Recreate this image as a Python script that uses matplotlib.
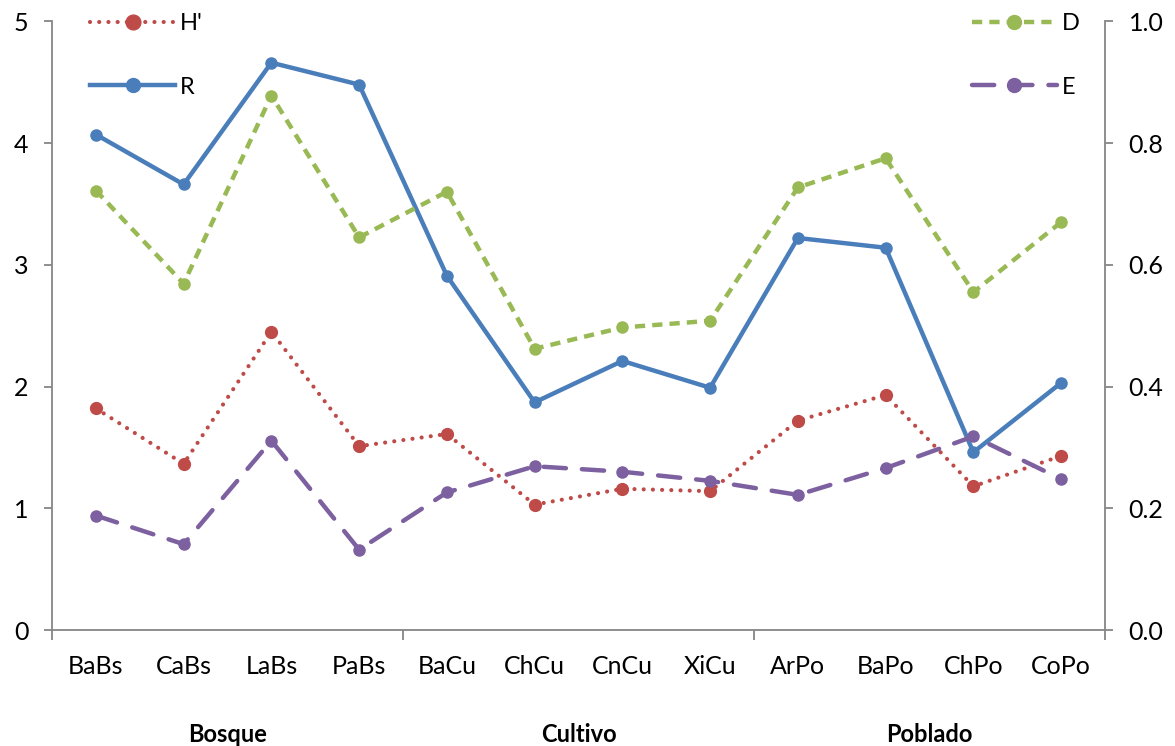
import matplotlib
matplotlib.use("Agg")
import matplotlib.pyplot as plt
import matplotlib.transforms as mtransforms

plt.rcParams['font.family'] = ['Lato', 'DejaVu Sans']

categories = ["BaBs", "CaBs", "LaBs", "PaBs", "BaCu", "ChCu", "CnCu", "XiCu",
              "ArPo", "BaPo", "ChPo", "CoPo"]
groups = ["Bosque", "Cultivo", "Poblado"]

H = [1.82, 1.365, 2.45, 1.51, 1.61, 1.03, 1.16, 1.14, 1.72, 1.93, 1.18, 1.43]
R = [4.07, 3.66, 4.66, 4.48, 2.91, 1.87, 2.21, 1.99, 3.22, 3.14, 1.46, 2.03]
D = [0.722, 0.569, 0.878, 0.645, 0.720, 0.462, 0.497, 0.508, 0.727, 0.775, 0.555, 0.670]
E = [0.188, 0.141, 0.311, 0.132, 0.226, 0.269, 0.260, 0.245, 0.222, 0.266, 0.318, 0.248]

left_ticks = [0, 1, 2, 3, 4, 5]
right_ticks = [0.0, 0.2, 0.4, 0.6, 0.8, 1.0]

c_blue = "#4A7EBB"
c_red = "#BE4B48"
c_green = "#98B954"
c_purple = "#7D60A0"
c_axis = "#868686"

W, Hpx = 1175, 746
fig = plt.figure(figsize=(W / 100, Hpx / 100), dpi=100)
ax = fig.add_axes([52 / W, (746 - 630) / Hpx, (1105 - 52) / W, (630 - 21.3) / Hpx])
ax2 = ax.twinx()

x = list(range(len(categories)))

lh, = ax.plot(x, H, color=c_red, lw=3.0, linestyle=(0, (0.01, 2.2)),
              dash_capstyle='round', marker='o', markersize=8.5, label="H'")
lr, = ax.plot(x, R, color=c_blue, lw=3.2, linestyle='-',
              marker='o', markersize=8, label="R")
ld, = ax2.plot(x, D, color=c_green, lw=3.2, linestyle=(0, (2.3, 1.6)),
               marker='o', markersize=8, label="D")
le, = ax2.plot(x, E, color=c_purple, lw=3.2, linestyle=(0, (5.0, 3.6)),
               dash_capstyle='round', marker='o', markersize=8, label="E")

ax.set_xlim(-0.5, len(categories) - 0.5)
ax.set_ylim(0, 5)
ax2.set_ylim(0, 1.0)
ax.set_yticks(left_ticks)
ax.set_yticklabels([str(t) for t in left_ticks])
ax2.set_yticks(right_ticks)
ax2.set_yticklabels([f"{t:.1f}" for t in right_ticks])

ax.set_xticks(x)
ax.set_xticklabels(categories)
ax.set_xticks([-0.5, 3.5, 7.5, 11.5], minor=True)

for a in (ax, ax2):
    a.spines['top'].set_visible(False)
    for s in ('left', 'right', 'bottom'):
        a.spines[s].set_color(c_axis)
        a.spines[s].set_linewidth(1.3)
ax.spines['right'].set_visible(False)
ax2.spines['left'].set_visible(False)
ax2.spines['bottom'].set_visible(False)

ax.tick_params(axis='y', which='major', direction='out', length=6, width=1.3,
               color=c_axis, labelsize=18, pad=11)
ax2.tick_params(axis='y', which='major', direction='out', length=6, width=1.3,
                color=c_axis, labelsize=18, pad=11)
ax.tick_params(axis='x', which='major', length=0, labelsize=18, pad=18)
ax.tick_params(axis='x', which='minor', direction='out', length=7, width=1.3,
               color=c_axis)

trans = mtransforms.blended_transform_factory(ax.transData, ax.transAxes)
for i, g in enumerate(groups):
    ax.text(i * 4 + 1.5, -0.171, g, transform=trans, ha='center', va='center',
            fontsize=17, fontweight='bold')

leg_kw = dict(loc='upper left', frameon=False, fontsize=17, handlelength=3.6,
              handletextpad=0.2, labelspacing=1.8, borderpad=0,
              borderaxespad=0, markerscale=1.25)
leg1 = fig.legend(handles=[lh, lr], bbox_to_anchor=(90 / W, 1 - 13 / Hpx), **leg_kw)
leg2 = fig.legend(handles=[ld, le], bbox_to_anchor=(972 / W, 1 - 13 / Hpx), **leg_kw)

fig.savefig("out.png", dpi=100)
